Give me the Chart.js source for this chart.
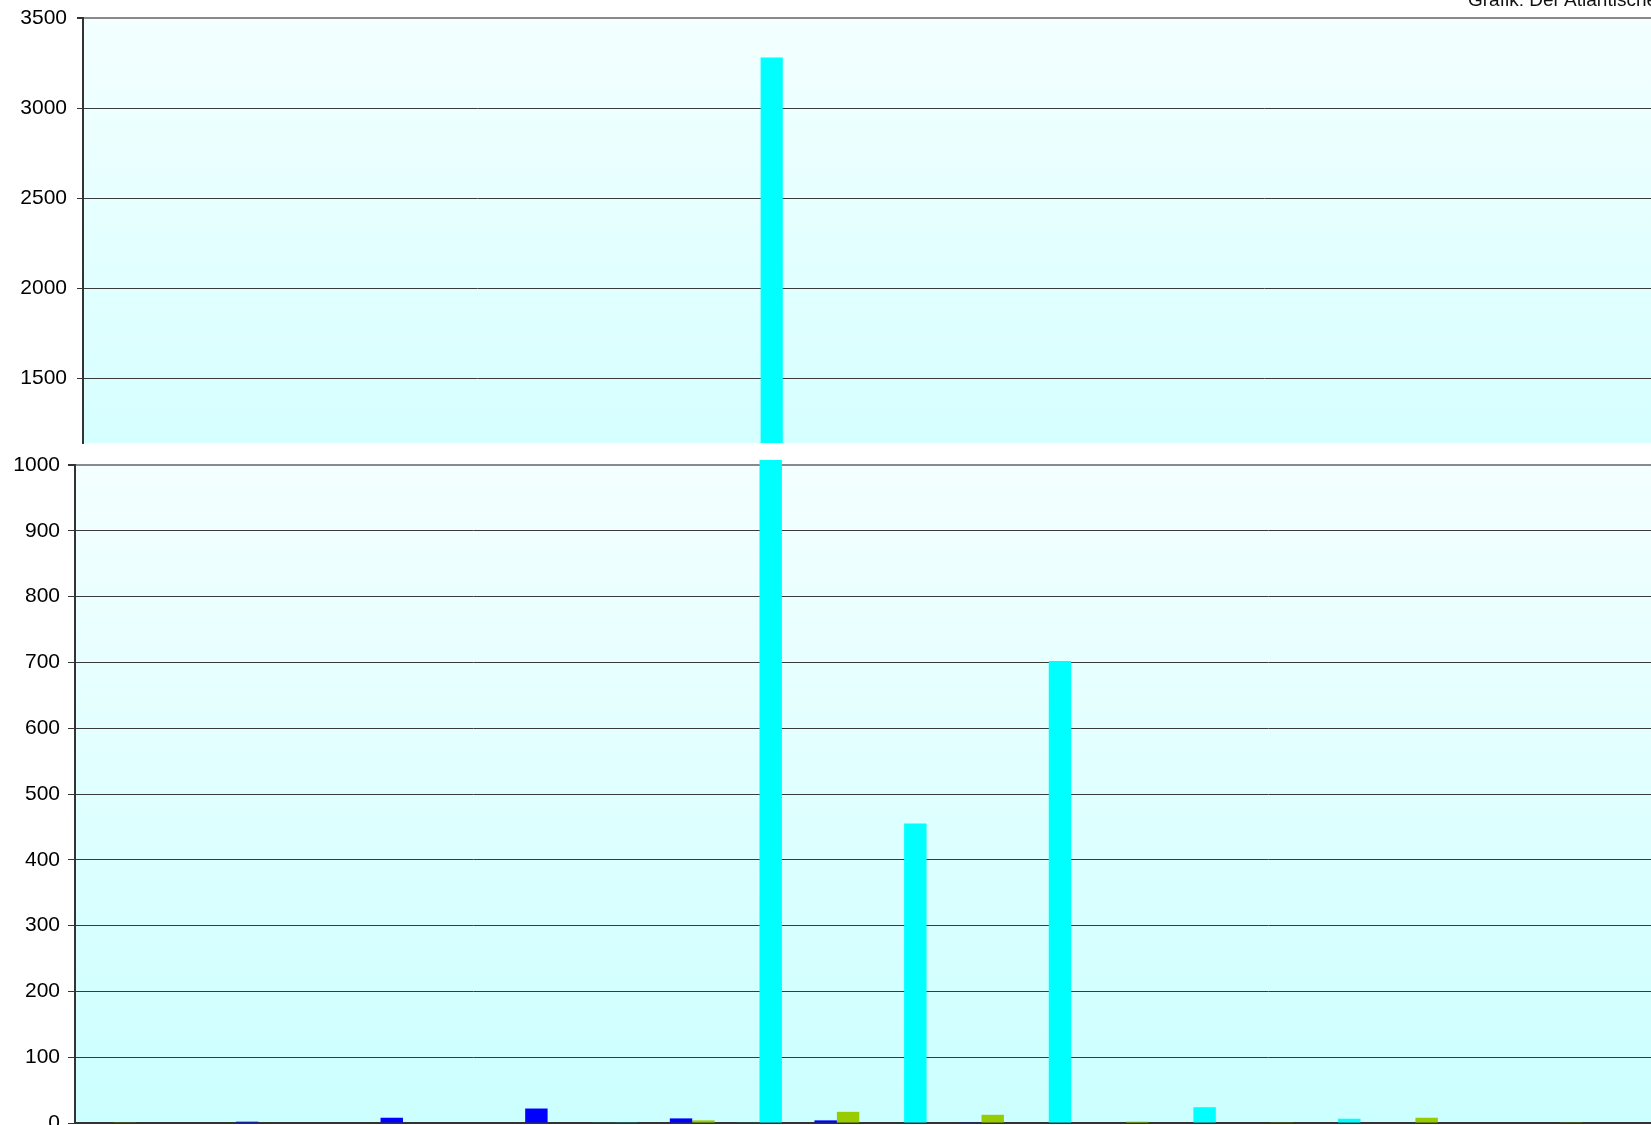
<!DOCTYPE html>
<html>
<head>
<meta charset="utf-8">
<script src="https://cdn.jsdelivr.net/npm/chart.js@4"></script>
<style>
  html, body { margin: 0; padding: 0; background: #fff; overflow: hidden; width: 1651px; height: 1125px; }
  #wrap { position: relative; width: 1651px; height: 1125px; overflow: hidden; }
  canvas { position: absolute; left: 0; }
  #top-chart { top: 0; }
  #bottom-chart { top: 440px; }
  #credit {
    position: absolute; left: 1468px; top: -10px;
    font: 19px "Liberation Sans", Arial, sans-serif; line-height: 19px;
    color: #111; white-space: nowrap;
  }
</style>
</head>
<body>
<div id="wrap">
  <canvas id="top-chart" width="1660" height="445"></canvas>
  <canvas id="bottom-chart" width="1666" height="685"></canvas>
  <div id="credit">Grafik: Der Atlantische</div>
</div>
<script>
// categories (x labels are cut off in the picture)
const categories = ['1', '2', '3', '4', '5', '6', '7', '8', '9', '10', '11'];

// series values
const blueValues  = [0, 2, 8, 22, 7, 4, 0.5, 0, 0, 0, 0];
const greenValues = [0.5, 0, 0, 0, 4, 17, 12.5, 2, 0.5, 8, 0.5];
const thirdValues = [0, 0, 0, 0, 0, 0, 0, 0, 0, 0, 0];
const fourthValues = [0, 0, 0, 0.5, 0.5, 0, 0, 0, 0, 0, 0];
const cyanValues  = [0, 0, 0, 0.5, 3280, 455, 702, 24, 6.5, 0, 0];

// tick labels of the two panels (broken axis)
const topTicks = [1500, 2000, 2500, 3000, 3500];
const bottomTicks = [0, 100, 200, 300, 400, 500, 600, 700, 800, 900, 1000];

const FONT = { family: '"Liberation Sans", Arial, sans-serif', size: 21 };

// fill plot area with a soft cyan gradient
const bgPlugin = {
  id: 'panelBg',
  beforeDraw(chart, args, opts) {
    const { ctx, chartArea: a } = chart;
    const g = ctx.createLinearGradient(0, a.top, 0, a.bottom);
    g.addColorStop(0, opts.from);
    g.addColorStop(1, opts.to);
    ctx.save();
    ctx.fillStyle = g;
    ctx.fillRect(a.left, a.top, a.right - a.left, a.bottom - a.top);
    ctx.restore();
  }
};

function makeDatasets(cyanClip) {
  return [
    { label: 'Serie 1', data: blueValues, backgroundColor: '#0000FF' },
    { label: 'Serie 2', data: greenValues, backgroundColor: '#99CC00' },
    { label: 'Serie 3', data: thirdValues, backgroundColor: '#993366' },
    { label: 'Serie 4', data: fourthValues, backgroundColor: '#339966' },
    { label: 'Serie 5', data: cyanValues, backgroundColor: '#00FFFF', clip: cyanClip }
  ];
}

function makeChart(el, opt) {
  const max = opt.ticks[opt.ticks.length - 1];
  return new Chart(el, {
    type: 'bar',
    data: { labels: categories, datasets: makeDatasets(opt.clip) },
    options: {
      responsive: false,
      animation: false,
      events: [],
      layout: { padding: opt.padding },
      datasets: { bar: { categoryPercentage: 0.775, barPercentage: 1, borderWidth: 0 } },
      plugins: {
        legend: { display: false },
        tooltip: { enabled: false },
        panelBg: opt.bg
      },
      scales: {
        x: {
          display: opt.showX,
          afterFit: (scale) => { scale.height = 0; scale.paddingLeft = 0; scale.paddingRight = 0; },
          grid: { display: false, drawTicks: false },
          ticks: { display: false },
          border: { display: true, color: '#333', width: 2 }
        },
        y: {
          min: opt.min,
          max: max,
          afterBuildTicks: (scale) => { scale.ticks = opt.ticks.map(v => ({ value: v })); },
          afterFit: (scale) => {
            scale.width = opt.axisWidth;
            scale.paddingTop = 0;
            scale.paddingBottom = 0;
          },
          ticks: { font: FONT, color: '#000', padding: opt.labelPad, callback: (v) => String(v) },
          grid: {
            color: (c) => c.tick && c.tick.value === max ? '#8a8a8a' : '#3a3a3a',
            lineWidth: (c) => c.tick && c.tick.value === max ? 2 : 1,
            tickColor: '#333',
            tickLength: opt.tickLen
          },
          border: { color: '#333', width: 2 }
        }
      }
    },
    plugins: [bgPlugin]
  });
}

// upper panel: 1140 .. 3500
makeChart(document.getElementById('top-chart'), {
  min: 1140,
  ticks: topTicks,
  padding: { top: 18, bottom: 2, left: 0, right: 2 },
  axisWidth: 83,
  labelPad: 10,
  tickLen: 6,
  showX: false,
  clip: undefined,
  bg: { from: '#F4FFFF', to: '#D6FFFF' }
});

// lower panel: 0 .. 1000
makeChart(document.getElementById('bottom-chart'), {
  min: 0,
  ticks: bottomTicks,
  padding: { top: 25, bottom: 2, left: 0, right: 0 },
  axisWidth: 75,
  labelPad: 8,
  tickLen: 7,
  showX: true,
  clip: { left: 0, top: 5, right: 0, bottom: 0 },
  bg: { from: '#F4FFFF', to: '#CCFFFF' }
});
</script>
</body>
</html>
